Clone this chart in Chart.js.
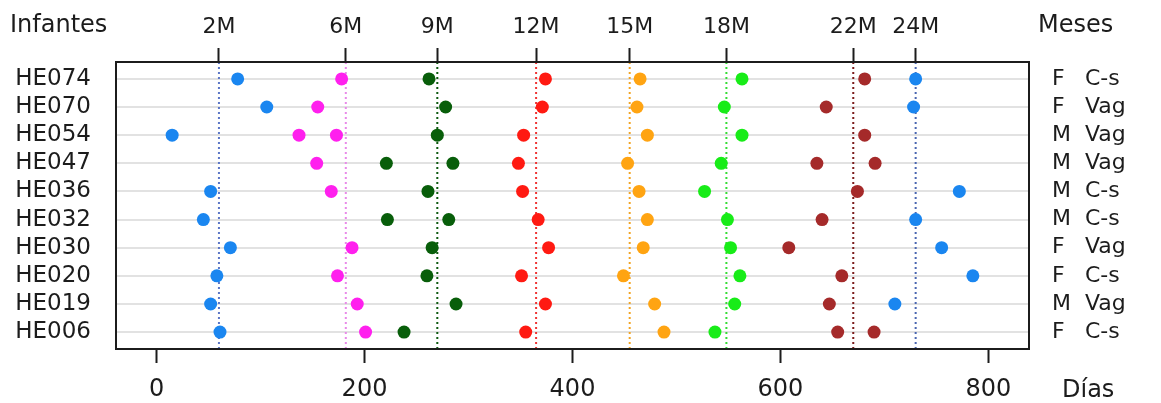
<!DOCTYPE html>
<html>
<head>
<meta charset="utf-8">
<script src="https://cdn.jsdelivr.net/npm/chart.js@4/dist/chart.umd.min.js"></script>
<style>
  html, body { margin: 0; padding: 0; background: #ffffff; }
  #wrap { width: 1161px; height: 403px; }
</style>
</head>
<body>
<div id="wrap"><canvas id="c" width="1161" height="403"></canvas></div>
<script>
// Infants (rows, top to bottom) with sex and type of delivery
const infantes = ['HE074','HE070','HE054','HE047','HE036','HE032','HE030','HE020','HE019','HE006'];
const sexo     = ['F','F','M','M','M','M','F','F','M','F'];
const parto    = ['C-s','Vag','Vag','Vag','C-s','C-s','Vag','C-s','Vag','C-s'];

// Scheduled visits (top axis) and their nominal day
const visitas    = ['2M','6M','9M','12M','15M','18M','22M','24M'];
const diasVisita = [60, 182, 270, 365, 455, 548, 670, 730];

// Day of each sample, per infant (one list per row, may be empty or hold two samples)
const dias2M  = [[78],[106],[15],[],[52],[45],[71],[58],[52],[61]];
const dias6M  = [[178],[155],[137,173],[154],[168],[],[188],[174],[193],[201]];
const dias9M  = [[262],[278],[270],[221,285],[261],[222,281],[265],[260],[288],[238]];
const dias12M = [[374],[371],[353],[348],[352],[367],[377],[351],[374],[355]];
const dias15M = [[465],[462],[472],[453],[464],[472],[468],[449],[479],[488]];
const dias18M = [[563],[546],[563],[543],[527],[549],[552],[561],[556],[537]];
const dias22M = [[681],[644],[681],[635,691],[674],[640],[608],[659],[647],[655,690]];
const dias24M = [[730],[728],[],[],[772],[730],[755],[785],[710],[]];

// Bottom axis ticks (days)
const ticksDias = [0, 200, 400, 600, 800];

const diasPorVisita = [dias2M, dias6M, dias9M, dias12M, dias15M, dias18M, dias22M, dias24M];
const coloresPunto  = ['#1a86f0','#ff20ee','#085e0a','#ff1a12','#ffa412','#18ec18','#a52a2a','#1a86f0'];
const coloresLinea  = ['#5b76c6','#e88ae8','#0e5a10','#ee3434','#f2a424','#34dc34','#7c1c1c','#4a66b0'];

const Y_MIN = 0.4, Y_MAX = 10.6;
const FONT = "'DejaVu Sans', 'Liberation Sans', sans-serif";
const INK = '#1c1c1c';

const datasets = [];
// dotted reference lines at each visit day
diasVisita.forEach((d, i) => {
  datasets.push({
    type: 'line',
    data: [{ x: d, y: Y_MIN }, { x: d, y: Y_MAX }],
    borderColor: coloresLinea[i],
    borderWidth: 2,
    borderDash: [2, 3],
    pointRadius: 0,
    order: 2
  });
});
// sample points
diasPorVisita.forEach((filas, i) => {
  const pts = [];
  filas.forEach((lista, r) => lista.forEach(d => pts.push({ x: d, y: r + 1 })));
  datasets.push({
    type: 'scatter',
    data: pts,
    backgroundColor: coloresPunto[i],
    borderColor: coloresPunto[i],
    borderWidth: 0,
    pointRadius: 6.5,
    pointHoverRadius: 6.5,
    order: 1
  });
});

// frame, corner titles and the right-hand columns (sex, delivery)
const decor = {
  id: 'decor',
  afterDraw(chart) {
    const { ctx, chartArea: a, scales } = chart;
    ctx.save();
    ctx.strokeStyle = INK;
    ctx.lineWidth = 2;
    ctx.strokeRect(a.left, a.top, a.right - a.left, a.bottom - a.top);

    ctx.fillStyle = INK;
    ctx.textBaseline = 'middle';
    ctx.textAlign = 'left';
    ctx.font = '24px ' + FONT;
    ctx.fillText('Infantes', 10, 26);
    ctx.fillText('Meses', 1038, 26);
    ctx.fillText('Días', 1062, 391);

    ctx.font = '22px ' + FONT;
    infantes.forEach((_, i) => {
      const y = scales.y.getPixelForValue(i + 1);
      ctx.fillText(sexo[i], 1052, y);
      ctx.fillText(parto[i], 1085, y);
    });
    ctx.restore();
  }
};

new Chart(document.getElementById('c'), {
  data: { datasets },
  options: {
    responsive: false,
    animation: false,
    events: [],
    layout: { padding: 0 },
    plugins: { legend: { display: false }, tooltip: { enabled: false } },
    scales: {
      x: {
        type: 'linear',
        position: 'bottom',
        min: -39, max: 839,
        afterBuildTicks: s => { s.ticks = ticksDias.map(v => ({ value: v })); },
        afterFit: s => { s.height = 54; },
        grid: { drawOnChartArea: false, drawTicks: true, tickLength: 14, tickColor: INK, tickWidth: 2 },
        border: { display: false },
        ticks: { font: { family: FONT, size: 24 }, color: INK, padding: 12, maxRotation: 0, autoSkip: false }
      },
      x2: {
        type: 'linear',
        position: 'top',
        min: -39, max: 839,
        afterBuildTicks: s => { s.ticks = diasVisita.map(v => ({ value: v })); },
        afterFit: s => { s.height = 62; },
        grid: { drawOnChartArea: false, drawTicks: true, tickLength: 14, tickColor: INK, tickWidth: 2 },
        border: { display: false },
        ticks: {
          font: { family: FONT, size: 22 }, color: INK, padding: 8, maxRotation: 0, autoSkip: false,
          callback: v => visitas[diasVisita.indexOf(v)]
        }
      },
      y: {
        type: 'linear',
        position: 'left',
        reverse: true,
        min: Y_MIN, max: Y_MAX,
        afterBuildTicks: s => { s.ticks = infantes.map((_, i) => ({ value: i + 1 })); },
        afterFit: s => { s.width = 116; },
        grid: { color: '#e2e2e2', lineWidth: 2, drawTicks: false },
        border: { display: false },
        ticks: {
          font: { family: FONT, size: 23 }, color: INK, padding: 25, autoSkip: false,
          callback: v => infantes[v - 1]
        }
      },
      yr: {
        type: 'linear',
        position: 'right',
        min: Y_MIN, max: Y_MAX,
        afterFit: s => { s.width = 132; },
        grid: { display: false },
        border: { display: false },
        ticks: { display: false }
      }
    }
  },
  plugins: [decor]
});
</script>
</body>
</html>
